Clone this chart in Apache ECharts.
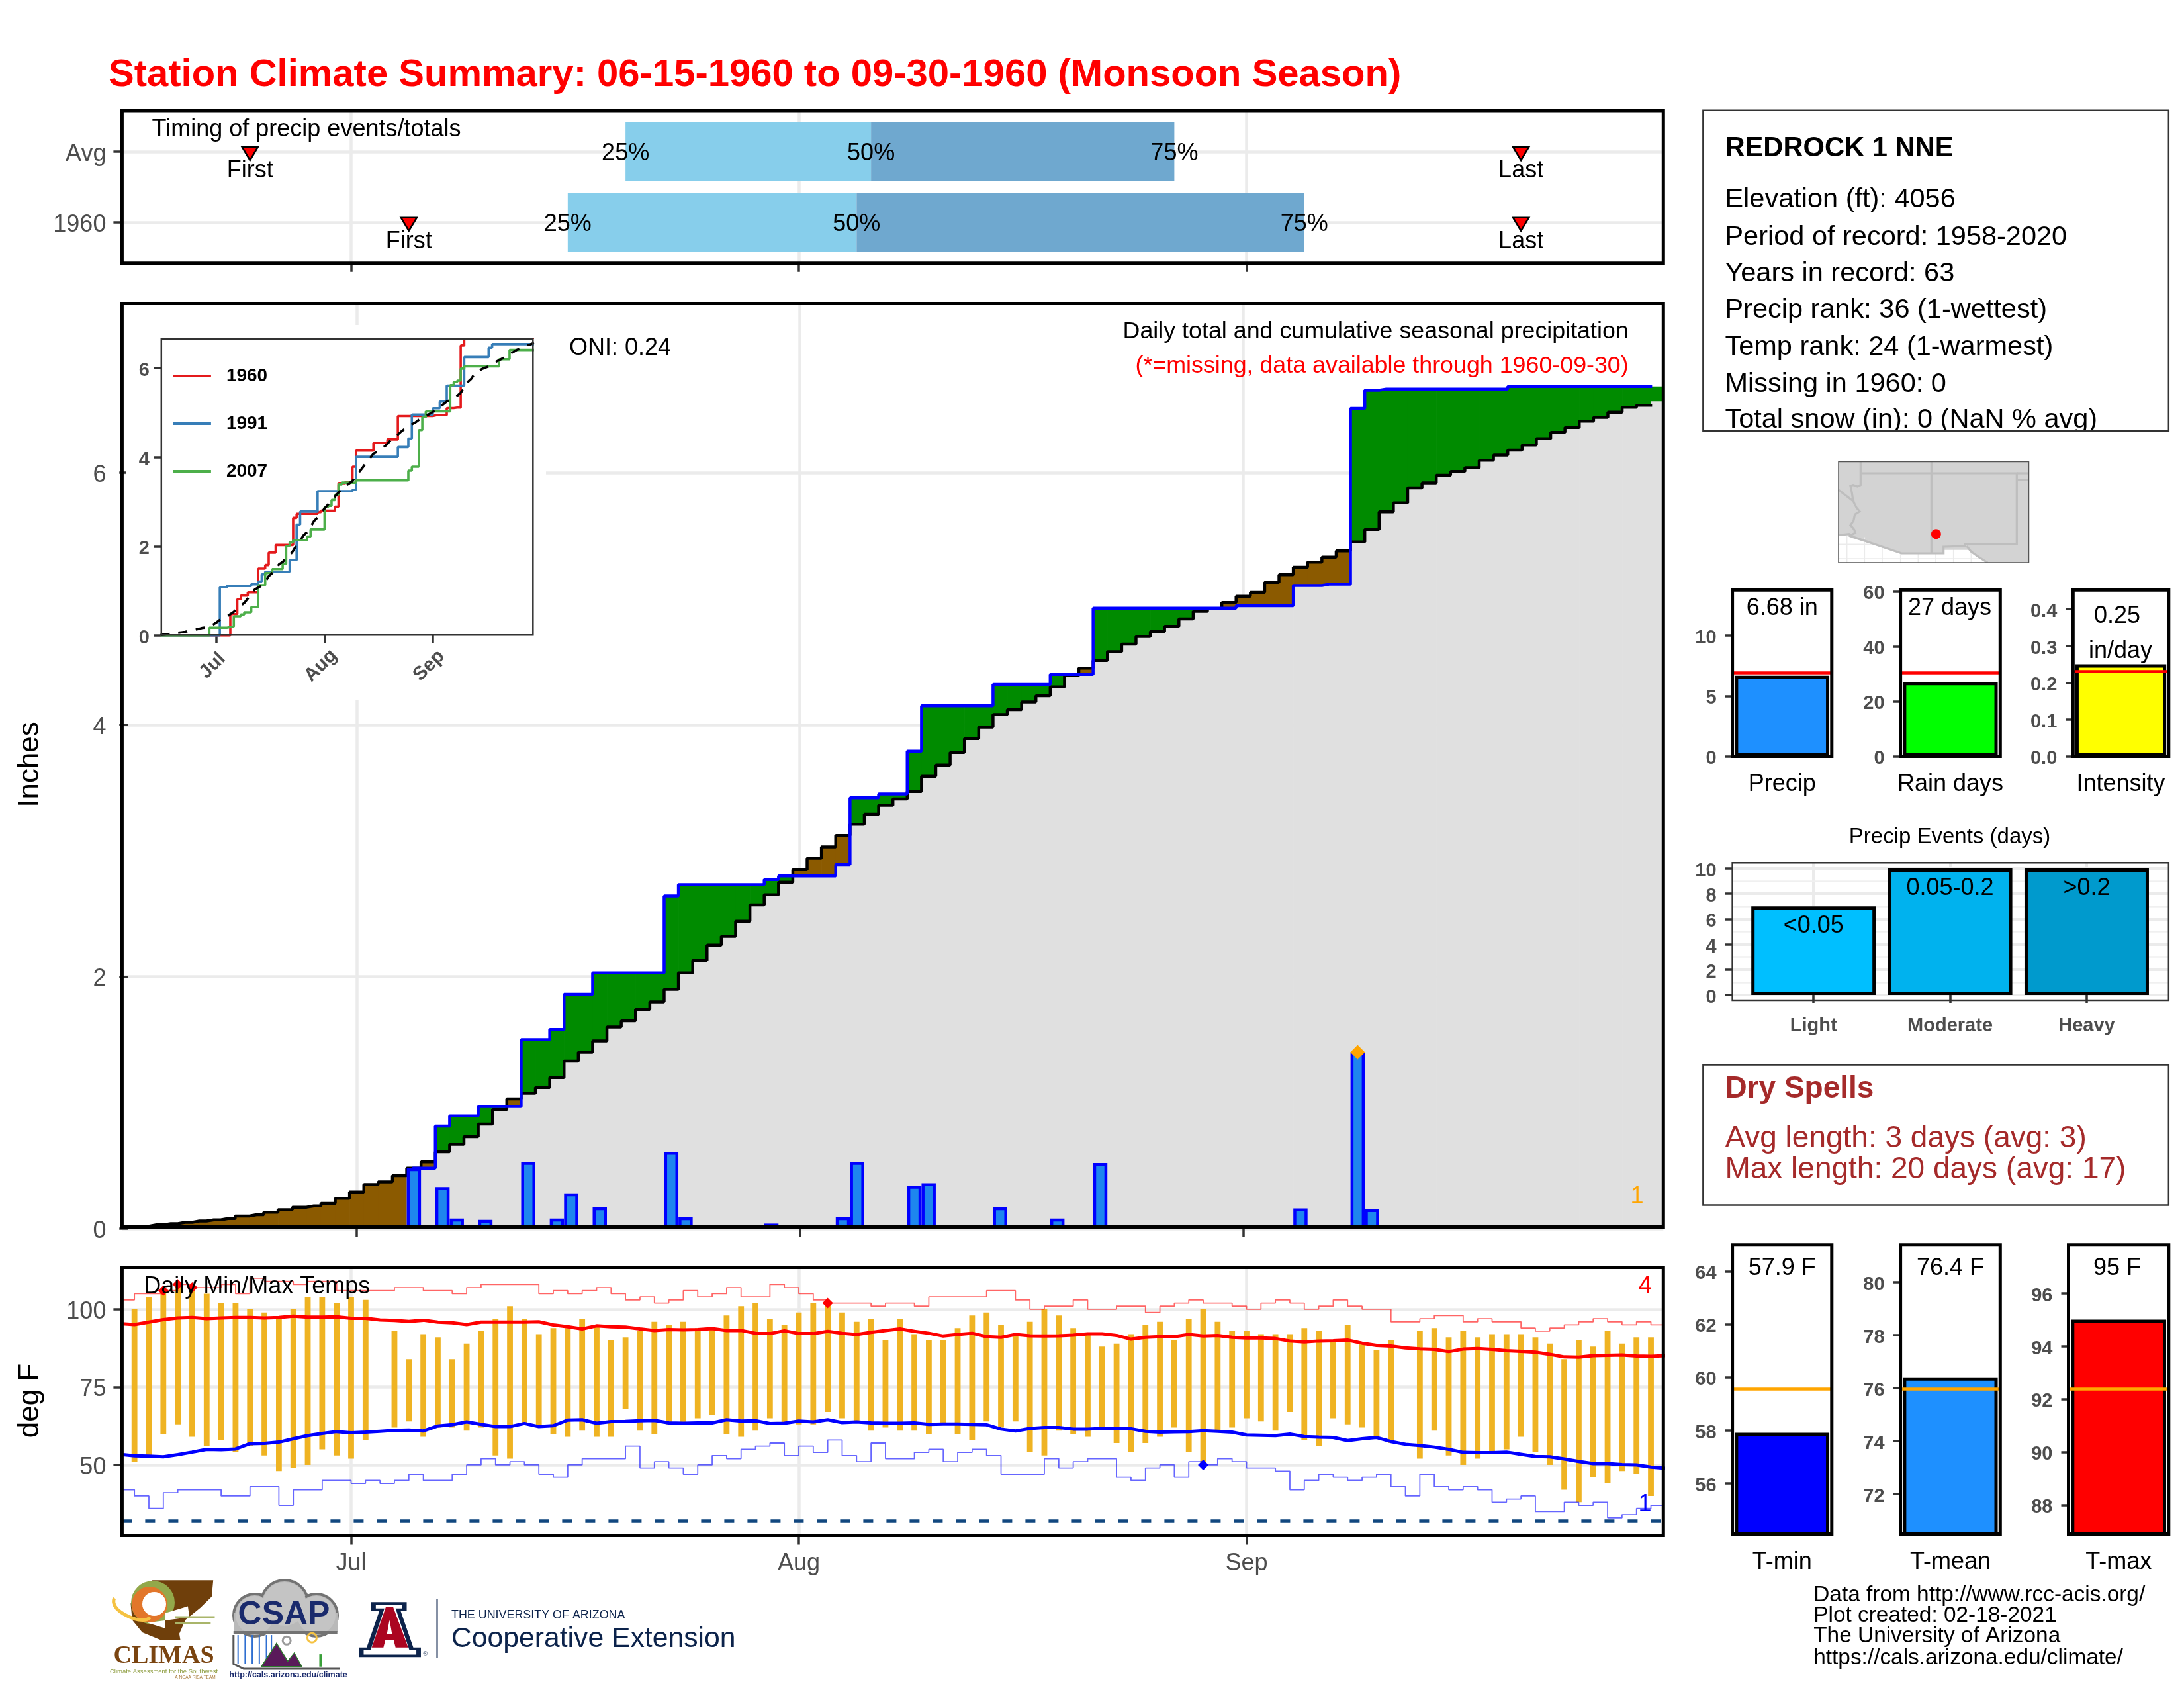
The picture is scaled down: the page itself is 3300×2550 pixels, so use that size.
<!DOCTYPE html>
<html>
<head>
<meta charset="utf-8">
<title>Station Climate Summary</title>
<script src="https://cdn.jsdelivr.net/npm/echarts@6/dist/echarts.min.js"></script>
<style>html,body{margin:0;padding:0;background:#fff}</style>
</head>
<body>
<div id="main" style="width:3300px;height:2550px;"></div>
<script type="text/javascript">
// day index: 0 = Jun 15, 16 = Jul 1, 47 = Aug 1, 78 = Sep 1, 107 = Sep 30
var monthDays = [16, 47, 78];
var monthNames = ['Jul', 'Aug', 'Sep'];

// timing panel
var timingRows = ['1960', 'Avg'];
var timingQuart = [[31, 51, 82], [35, 52, 73]];
var quartLabels = ['25%', '50%', '75%'];
var firstDays = [20, 9];
var lastDays = [97, 97];

// daily precip (inches), only days that show a bar
var precipDays = [20,22,23,25,28,30,31,33,38,39,45,46,50,51,53,55,56,61,65,68,78,82,86,87,97];
var precipVals = [.48,.33,.08,.07,.53,.08,.28,.17,.61,.09,.04,.03,.09,.53,.03,.34,.36,.17,.08,.52,.02,.16,1.40,.155,.02];

// cumulative precip for 1960, one per day
var obsCum = [
  0,0,0,0,0,0,0,0,0,0,0,0,0,0,0,0,0,0,0,0,
  .48,.48,.815,.895,.895,.97,.97,.97,1.50,1.50,1.58,1.86,1.86,
  2.03,2.03,2.03,2.03,2.03,2.64,2.73,2.73,2.73,2.73,2.73,2.73,2.77,
  2.80,2.80,2.80,2.80,2.89,3.42,3.42,3.45,3.45,3.79,
  4.15,4.15,4.15,4.15,4.15,4.32,4.32,4.32,4.32,4.40,4.40,4.40,
  4.925,4.925,4.925,4.925,4.925,4.925,4.925,4.925,4.925,4.925,
  4.945,4.945,4.945,4.945,5.105,5.105,5.115,5.115,6.51,6.655,
  6.665,6.665,6.665,6.665,6.665,6.665,6.665,6.665,6.665,
  6.685,6.685,6.685,6.685,6.685,6.685,6.685,6.685,6.685,6.685,6.685
];
// long term average cumulative precip, one per day
var avgCum = [
  .01,.02,.03,.04,.05,.06,.07,.08,.10,.11,.13,.15,.17,.18,.20,.24,.29,.35,.37,.42,
  .48,.53,.61,.67,.73,.83,.945,1.03,1.075,1.12,1.20,1.33,1.40,1.49,1.60,1.65,1.74,1.80,1.90,
  2.03,2.13,2.25,2.32,2.44,2.57,2.65,2.75,2.85,2.94,3.03,3.12,3.21,3.29,3.36,3.41,3.47,
  3.59,3.68,3.78,3.89,3.98,4.08,4.12,4.18,4.23,4.30,4.39,4.45,
  4.51,4.58,4.64,4.70,4.74,4.78,4.84,4.90,4.92,4.97,5.02,5.05,5.13,5.19,5.25,5.29,5.33,5.38,
  5.45,5.55,5.69,5.76,5.88,5.92,5.98,6.01,6.04,6.10,6.14,6.18,6.22,6.27,6.32,6.36,6.41,6.44,6.48,6.52,6.535,6.57
];
var maxPrecipDay = [86, 1.40];

// inset comparison years: step day and level
var days1991 = [0,17,19,26,28,29,30,37,39,40,45,55,56,68,71,72,78,80,82,87,94,95,107];
var vals1991 = [0,1.08,1.11,1.15,1.21,1.37,1.43,1.69,2.49,2.78,3.24,3.27,4.01,4.23,4.42,4.96,5.10,5.25,5.61,6.25,6.46,6.54,6.54];
var days2007 = [0,14,19,21,23,24,26,28,30,32,35,36,37,38,42,43,47,48,49,50,51,52,56,71,72,74,75,76,83,84,85,86,87,97,100,107];
var vals2007 = [0,.175,.2,.43,.47,.52,.64,1.13,1.4,1.49,1.61,2.01,2.09,2.14,2.22,2.38,2.88,2.91,3.04,3.16,3.39,3.43,3.48,3.7,3.79,4.61,4.9,5.03,5.62,5.69,5.72,5.99,6.04,6.2,6.41,6.41];

// daily temps (deg F), null = missing
var tmaxDaily = [null,100,104,106,108,107,105,102,102,100,99,97,100,104,104,102,104,103,null,93,84,92,91,84,89,93,97,101,97,92,94,94,97,95,90,91,93,96,95,96,94,94,98,101,102,97,95,99,102,102,99,96,97,90,97,92,90,90,94,98,99,95,92,96,100,98,94,92,88,89,92,95,96,90,97,100,96,93,93,92,92,92,94,93,90,95,89,87,90,null,93,94,91,93,91,92,92,92,91,89,84,90,88,93,89,91,91,null];
var tminDaily = [null,51,53,60,63,59,56,58,54,56,53,48,49,50,55,53,52,58,null,62,64,59,62,62,61,62,53,52,63,62,60,59,61,59,59,68,61,60,63,63,65,66,60,59,61,65,63,63,63,67,65,64,61,62,61,61,60,63,60,58,64,62,64,54,53,61,60,59,62,57,54,57,59,62,54,50,61,62,65,64,61,67,58,56,65,63,62,59,57,null,52,61,53,50,52,54,55,59,54,50,42,38,46,44,48,47,40,null];
var avgMax = [95.4,95.1,95.9,96.7,97.2,97.4,97.0,97.2,97.4,97.4,97.2,97.4,97.8,97.5,97.5,97.6,97.1,97.1,96.6,96.4,96.1,96.5,95.9,95.7,95.1,95.9,95.9,95.9,95.9,96.0,95.0,94.4,93.7,94.7,94.4,94.3,93.7,93.2,93.5,93.4,93.5,93.8,93.2,93.2,92.3,92.2,93.1,92.2,92.2,92.9,92.3,91.9,92.6,93.2,93.7,92.9,92.3,91.4,91.9,92.3,91.2,91.0,91.9,91.5,91.4,91.5,91.7,92.1,92.1,91.6,90.4,91.0,91.2,91.2,91.9,91.4,91.6,91.0,90.8,90.8,90.6,89.8,89.5,89.8,89.9,90.1,89.1,88.4,88.2,87.6,87.3,87.1,86.4,87.2,87.4,87.1,86.7,86.5,86.2,85.5,84.7,84.6,85.1,85.2,85.3,85.0,84.9,85.1];
var avgMin = [53.4,52.9,52.8,52.6,53.3,54.1,55.0,54.9,55.1,56.8,56.9,57.3,58.4,59.4,60.1,60.7,60.3,60.5,60.8,61.1,61.2,60.9,62.5,62.9,63.8,63.0,62.3,62.3,63.3,62.3,62.6,64.4,64.5,63.4,63.9,64.0,64.2,64.3,63.5,63.4,63.5,63.5,64.5,64.1,64.2,63.3,63.4,64.1,63.8,64.5,63.6,63.8,63.5,63.4,63.4,63.5,63.0,63.1,63.1,63.0,62.9,61.5,60.9,61.7,62.0,62.0,61.5,61.5,61.7,61.8,61.6,60.8,60.5,60.6,60.7,61.0,60.8,60.5,59.6,59.5,59.4,59.9,59.1,58.9,58.8,57.8,58.4,58.8,57.5,56.6,56.2,55.7,55.0,54.0,53.9,53.9,54.1,53.4,52.7,52.6,51.9,51.1,50.4,50.4,50.1,50.0,49.3,48.9];
var recordHigh = [103,105,105,106,108,107,107,108,105,110,109,109,108,109,109,106,106,106,106,107,107,106,106,105,107,108,108,108,108,105,106,105,106,107,105,103,104,102,103,106,104,105,107,104,104,108,107,105,103,102,102,102,101,102,102,101,104,104,104,104,106,106,103,100,101,101,103,100,100,101,101,99,101,102,103,102,102,101,100,102,103,102,100,101,103,101,100,100,96,96,97,98,98,96,97,96,96,94,93,94,95,96,97,96,95,96,95,95];
var recordLow = [42,40,36,41,42,42,42,40,40,43,43,37,42,42,45,45,44,45,44,45,47,45,45,47,50,52,50,51,50,47,46,50,52,52,52,56,49,51,49,47,50,53,52,55,56,57,53,56,54,58,53,51,57,52,52,54,55,51,54,55,53,47,47,47,52,49,51,52,52,46,45,49,50,46,51,50,52,51,49,49,48,42,45,47,46,45,46,47,43,40,47,43,42,43,42,38,39,40,35,35,38,37,38,33,34,36,37,37];
var freezeLine = 32;
var hotMarks = [[3,106],[4,108],[5,107],[49,102]];
var coldMarks = [[75,50]];

// summary bars
var precipBar = {name: 'Precip', value: 6.68, avg: 6.92, text: '6.68 in'};
var rainBar = {name: 'Rain days', value: 27, avg: 30.4, text: '27 days'};
var intensBar = {name: 'Intensity', value: 0.25, avg: 0.2275, text: '0.25'};
var tminBar = {name: 'T-min', value: 57.9, avg: 59.55, text: '57.9 F'};
var tmeanBar = {name: 'T-mean', value: 76.4, avg: 75.97, text: '76.4 F'};
var tmaxBar = {name: 'T-max', value: 95, avg: 92.37, text: '95 F'};

var eventCats = ['Light', 'Moderate', 'Heavy'];
var eventVals = [7, 10, 10];
var eventLabels = ['<0.05', '0.05-0.2', '>0.2'];
var eventMinor = [1, 3, 5, 7, 9];

var stationLines = ['Elevation (ft): 4056', 'Period of record: 1958-2020', 'Years in record: 63', 'Precip rank: 36 (1-wettest)', 'Temp rank: 24 (1-warmest)', 'Missing in 1960: 0', 'Total snow (in): 0 (NaN % avg)'];
var footLines = ['Data from http://www.rcc-acis.org/', 'Plot created: 02-18-2021', 'The University of Arizona', 'https://cals.arizona.edu/climate/'];

var FONT = '"Liberation Sans"';
var GRID_C = '#ebebeb', TICK_C = '#333333', LABEL_C = '#4d4d4d';

var myChart = echarts.init(document.getElementById('main'));

var grids = [], xAxes = [], yAxes = [], series = [], gfx = [];

function pairs(xs, ys) { return xs.map(function (x, i) { return [x, ys[i]]; }); }
function byDay(ys) { return ys.map(function (y, i) { return [i, y]; }); }

function axisBase(customVals, fmt, size, bold, tickLen, margin) {
  return {
    axisLine: {show: false},
    axisTick: {show: true, length: tickLen || 13, lineStyle: {color: TICK_C, width: 3.5}, customValues: customVals},
    axisLabel: {show: true, customValues: customVals, formatter: fmt, fontFamily: FONT, fontSize: size, fontWeight: bold ? 'bold' : 'normal', color: LABEL_C, margin: margin || 24, padding: [4, 0, 0, 0]},
    splitLine: {show: false}
  };
}
function addPanel(box, xa, ya) {
  grids.push({left: box[0], top: box[1], width: box[2] - box[0], height: box[3] - box[1], show: false, containLabel: false});
  var i = grids.length - 1;
  // y labels sit a little high when centred, hang them from the tick instead
  ya.axisLabel.verticalAlign = 'top';
  ya.axisLabel.padding = [4 - ya.axisLabel.fontSize / 2, 0, 0, 0];
  xAxes.push(Object.assign({gridIndex: i, position: 'bottom'}, xa));
  yAxes.push(Object.assign({gridIndex: i, position: 'left'}, ya));
  return i;
}
function frame(box, color, width, z) {
  gfx.push({type: 'rect', shape: {x: box[0], y: box[1], width: box[2] - box[0], height: box[3] - box[1]},
    style: {fill: 'none', stroke: color, lineWidth: width}, z: z || 50, silent: true});
}
function txt(x, y, text, size, o) {
  o = o || {};
  // line box middle sits a little above the glyph middle
  var el = {type: 'text', x: o.rotation ? x + 4 : x, y: o.rotation ? y : y + 4, z: o.z || 60, silent: true, style: {
    text: text, fill: o.color || '#000', fontFamily: o.family || FONT, fontSize: size, fontWeight: o.weight || 'normal',
    align: o.align || 'left', textAlign: o.align || 'left', verticalAlign: 'middle', textVerticalAlign: 'middle',
    stroke: o.stroke, lineWidth: o.lineWidth
  }};
  if (o.rotation) el.rotation = o.rotation;
  gfx.push(el);
}
function poly(points, fill, stroke, lw, z, smooth) {
  gfx.push({type: fill ? 'polygon' : 'polyline', shape: {points: points, smooth: smooth || 0},
    style: {fill: fill || 'none', stroke: stroke || 'none', lineWidth: lw || 0}, z: z || 40, silent: true});
}
function circle(cx, cy, r, fill, stroke, lw, z) {
  gfx.push({type: 'circle', shape: {cx: cx, cy: cy, r: r}, style: {fill: fill || 'none', stroke: stroke || 'none', lineWidth: lw || 0}, z: z || 40, silent: true});
}
function rect(x, y, w, h, fill, z) {
  gfx.push({type: 'rect', shape: {x: x, y: y, width: w, height: h}, style: {fill: fill}, z: z || 40, silent: true});
}
function monthFmt(v) { return monthNames[monthDays.indexOf(Math.round(v))] || ''; }

// title
txt(164, 110, 'Station Climate Summary: 06-15-1960 to 09-30-1960 (Monsoon Season)', 58, {color: '#ff0000', weight: 'bold'});

/* ---------- timing panel ---------- */
var topBox = [184.4, 167, 2513.3, 397.7];
var topX = Object.assign({type: 'value', min: 0.14, max: 106.86}, axisBase(monthDays, monthFmt, 36));
topX.axisLabel.show = false;
topX.splitLine = {show: true, lineStyle: {color: GRID_C, width: 4.5}};
var topY = Object.assign({type: 'value', min: 0.42, max: 2.58}, axisBase([1, 2], function (v) { return timingRows[Math.round(v) - 1]; }, 36));
topY.splitLine = {show: true, lineStyle: {color: GRID_C, width: 4.5}};
var gTop = addPanel(topBox, topX, topY);
frame(topBox, '#000', 5);

series.push({
  type: 'custom', xAxisIndex: gTop, yAxisIndex: gTop, clip: true, z: 2,
  data: timingQuart.map(function (q, i) { return [i + 1, q[0], q[1], q[2]]; }),
  renderItem: function (params, api) {
    var row = api.value(0), a = api.coord([api.value(1), row + 0.414]), b = api.coord([api.value(2), row - 0.414]), c = api.coord([api.value(3), row - 0.414]);
    return {type: 'group', children: [
      {type: 'rect', shape: {x: a[0], y: a[1], width: b[0] - a[0], height: b[1] - a[1]}, style: {fill: '#87ceeb'}},
      {type: 'rect', shape: {x: b[0], y: a[1], width: c[0] - b[0], height: b[1] - a[1]}, style: {fill: '#6fa8cf'}}
    ]};
  }
});
var quartPts = [];
timingQuart.forEach(function (q, i) { q.forEach(function (d) { quartPts.push([d, i + 1]); }); });
series.push({
  type: 'scatter', xAxisIndex: gTop, yAxisIndex: gTop, z: 4, symbolSize: 1, itemStyle: {color: 'transparent', opacity: 1}, clip: false,
  data: quartPts,
  label: {show: true, position: 'inside', offset: [0, 3], fontFamily: FONT, fontSize: 36, color: '#000', textBorderWidth: 0, opacity: 1,
    formatter: function (p) { return quartLabels[p.dataIndex % 3]; }}
});
function timingMarks(days, word) {
  series.push({
    type: 'scatter', xAxisIndex: gTop, yAxisIndex: gTop, z: 4,
    symbol: 'triangle', symbolRotate: 180, symbolSize: [24, 20], symbolOffset: [0, 3],
    itemStyle: {color: '#ff0000', borderColor: '#000', borderWidth: 2.5, opacity: 1},
    data: days.map(function (d, i) { return [d, i + 1]; }),
    label: {show: true, position: 'bottom', distance: -3, fontFamily: FONT, fontSize: 36, color: '#000', opacity: 1, formatter: word}
  });
}
timingMarks(firstDays, 'First');
timingMarks(lastDays, 'Last');
txt(229.6, 192, 'Timing of precip events/totals', 36);

/* ---------- main precip panel ---------- */
// plot area runs down to y = 0, the frame sits a touch higher
var mainBox = [184.4, 458.6, 2513.3, 1856];
var mainX = Object.assign({type: 'value', min: -0.41, max: 107.38}, axisBase(monthDays, monthFmt, 36));
mainX.axisLabel.show = false;
mainX.splitLine = {show: true, lineStyle: {color: GRID_C, width: 4.5}};
var mainY = Object.assign({type: 'value', min: 0, max: 7.343}, axisBase([0, 2, 4, 6], function (v) { return String(Math.round(v)); }, 36));
mainY.splitLine = {show: true, lineStyle: {color: GRID_C, width: 4.5}};
var gMain = addPanel(mainBox, mainX, mainY);
frame([184.4, 458.6, 2513.3, 1853.6], '#000', 5);

series.push({
  type: 'custom', xAxisIndex: gMain, yAxisIndex: gMain, clip: true, z: 2,
  data: obsCum.map(function (o, i) { return [i, o, avgCum[i]]; }),
  renderItem: function (params, api) {
    var d = api.value(0), o = api.value(1), m = api.value(2);
    var lo = Math.min(o, m), hi = Math.max(o, m);
    var a = api.coord([d - 0.5, lo]), b = api.coord([d + 0.5, 0]), c = api.coord([d - 0.5, hi]);
    return {type: 'group', children: [
      {type: 'rect', shape: {x: a[0], y: a[1], width: b[0] - a[0] + 0.7, height: b[1] - a[1]}, style: {fill: '#e0e0e0'}},
      {type: 'rect', shape: {x: c[0], y: c[1], width: b[0] - c[0] + 0.7, height: a[1] - c[1] + 0.5}, style: {fill: o >= m ? '#008b00' : '#8b5a00'}}
    ]};
  }
});
var lineEnd = 106.49;
series.push({type: 'line', xAxisIndex: gMain, yAxisIndex: gMain, z: 3, step: 'middle', symbol: 'none', silent: true,
  lineStyle: {color: '#000', width: 4.5, cap: 'square'},
  data: byDay(avgCum).slice(0, 107).concat([[lineEnd, avgCum[106]]])});
// starts at the first rain, before that it would only run along the axis
series.push({type: 'line', xAxisIndex: gMain, yAxisIndex: gMain, z: 4, step: 'middle', symbol: 'none', silent: true,
  lineStyle: {color: '#0000ff', width: 4.5, cap: 'square'},
  data: byDay(obsCum).slice(20, 107).concat([[lineEnd, obsCum[106]]])});
series.push({type: 'bar', xAxisIndex: gMain, yAxisIndex: gMain, z: 5, barWidth: 21.5, silent: true,
  itemStyle: {color: '#1e86ee', borderColor: '#0000ff', borderWidth: 4.5},
  data: pairs(precipDays, precipVals)});
series.push({type: 'scatter', xAxisIndex: gMain, yAxisIndex: gMain, z: 6, symbol: 'diamond', symbolSize: 22,
  itemStyle: {color: '#ffa500', opacity: 1}, data: [maxPrecipDay]});

txt(860, 521.7, 'ONI: 0.24', 36);
txt(2460.7, 497, 'Daily total and cumulative seasonal precipitation', 35.8, {align: 'right'});
txt(2460.7, 549.3, '(*=missing, data available through 1960-09-30)', 35.8, {align: 'right', color: '#ff0000'});
txt(2473.5, 1804, '1', 36, {color: '#ffa500', align: 'center'});
txt(42, 1155, 'Inches', 44, {align: 'center', rotation: Math.PI / 2});

/* ---------- inset ---------- */
var insetBox = [243.8, 511.8, 805.3, 960];
// white patch behind the inset, hides the main gridlines
rect(190, 491, 635, 566, '#fff', 1);
var insetX = Object.assign({type: 'value', min: 0.25, max: 106.7, z: 5}, axisBase(monthDays, monthFmt, 29, true, 11, 40));
insetX.axisLabel.rotate = 45;
insetX.axisLabel.align = 'center';
insetX.axisLabel.verticalAlign = 'middle';
insetX.axisLabel.padding = [0, 16, 0, 0];
var insetY = Object.assign({type: 'value', min: 0, max: 6.66, z: 5}, axisBase([0, 2, 4, 6], function (v) { return String(Math.round(v)); }, 29, true, 11, 18));
var gInset = addPanel(insetBox, insetX, insetY);
frame([243.8, 511.8, 805.3, 959.3], '#333', 2.5);
function insetLine(name, data, color) {
  series.push({name: name, type: 'line', xAxisIndex: gInset, yAxisIndex: gInset, z: 7, step: 'end', symbol: 'none', silent: true,
    lineStyle: {color: color, width: 3.6}, itemStyle: {color: color}, data: data});
}
insetLine('1960', byDay(obsCum), '#e41a1c');
insetLine('1991', pairs(days1991, vals1991), '#377eb8');
insetLine('2007', pairs(days2007, vals2007), '#4daf4a');
series.push({type: 'line', xAxisIndex: gInset, yAxisIndex: gInset, z: 8, symbol: 'none', silent: true,
  lineStyle: {color: '#000', width: 3.6, type: [14, 13]}, data: byDay(avgCum)});

/* ---------- daily temps panel ---------- */
var tempBox = [184.4, 1914.5, 2513.3, 2319.6];
var tempX = Object.assign({type: 'value', min: 0.14, max: 106.86}, axisBase(monthDays, monthFmt, 36));
tempX.axisTick.length = 14;
tempX.axisLabel.margin = 20;
tempX.splitLine = {show: true, lineStyle: {color: GRID_C, width: 4.5}};
var tempY = Object.assign({type: 'value', min: 27.3, max: 113.5}, axisBase([50, 75, 100], function (v) { return String(Math.round(v)); }, 36));
tempY.splitLine = {show: true, lineStyle: {color: GRID_C, width: 4.5}};
var gTemp = addPanel(tempBox, tempX, tempY);
frame(tempBox, '#000', 5);

var tempRows = [];
tmaxDaily.forEach(function (t, i) { if (t !== null) tempRows.push([i, tminDaily[i], t]); });
series.push({
  type: 'custom', xAxisIndex: gTemp, yAxisIndex: gTemp, clip: true, z: 2, data: tempRows,
  renderItem: function (params, api) {
    var a = api.coord([api.value(0), api.value(2)]), b = api.coord([api.value(0), api.value(1)]);
    return {type: 'rect', shape: {x: a[0] - 4.4, y: a[1], width: 8.8, height: b[1] - a[1]}, style: {fill: '#efb322'}};
  }
});
function tempStep(data, color) {
  series.push({type: 'line', xAxisIndex: gTemp, yAxisIndex: gTemp, z: 3, step: 'end', symbol: 'none', silent: true,
    lineStyle: {color: color, width: 1.8, opacity: 0.6}, data: byDay(data)});
}
tempStep(recordHigh, '#ff0000');
tempStep(recordLow, '#0000ff');
series.push({type: 'line', xAxisIndex: gTemp, yAxisIndex: gTemp, z: 3, symbol: 'none', silent: true,
  lineStyle: {color: '#11477f', width: 4.5, type: [15, 20]}, data: [[0.14, freezeLine], [106.86, freezeLine]]});
function tempMean(data, color) {
  series.push({type: 'line', xAxisIndex: gTemp, yAxisIndex: gTemp, z: 4, symbol: 'none', silent: true,
    lineStyle: {color: color, width: 5}, data: byDay(data)});
}
tempMean(avgMax, '#ff0000');
tempMean(avgMin, '#0000ff');
series.push({type: 'scatter', xAxisIndex: gTemp, yAxisIndex: gTemp, z: 5, symbol: 'diamond', symbolSize: 16, itemStyle: {color: '#ff0000', opacity: 1}, data: hotMarks});
series.push({type: 'scatter', xAxisIndex: gTemp, yAxisIndex: gTemp, z: 5, symbol: 'diamond', symbolSize: 16, itemStyle: {color: '#0000ff', opacity: 1}, data: coldMarks});
txt(217.3, 1940, 'Daily Min/Max Temps', 36);
txt(2486, 1939.5, '4', 36, {color: '#ff0000', align: 'center'});
txt(2485.5, 2269, '1', 36, {color: '#0000ff', align: 'center'});
txt(42, 2116, 'deg F', 44, {align: 'center', rotation: Math.PI / 2});

/* ---------- summary bars ---------- */
function summaryBar(box, yMin, yMax, ticks, item, fill, lineColor, labelY, labelX, fmt) {
  var w = box[2] - box[0];
  var xa = {type: 'category', data: [item.name], axisLine: {show: false}, axisTick: {show: false}, splitLine: {show: false},
    axisLabel: {fontFamily: FONT, fontSize: 36, color: '#000', margin: 25}};
  var ya = Object.assign({type: 'value', min: yMin, max: yMax}, axisBase(ticks, fmt, 29, true, 11));
  var g = addPanel(box, xa, ya);
  series.push({type: 'bar', xAxisIndex: g, yAxisIndex: g, z: 3, barWidth: w * 0.95, silent: true,
    itemStyle: {color: fill, borderColor: '#000', borderWidth: 5},
    data: [item.value],
    markLine: {silent: true, symbol: 'none', label: {show: false}, z: 6,
      lineStyle: {color: lineColor, width: 4.5, type: 'solid'}, data: [{yAxis: item.avg}]}
  });
  frame(box, '#000', 5);
  txt(labelX, labelY, item.text, 36, {align: 'center'});
}
function intFmt(v) { return String(Math.round(v)); }
summaryBar([2617.6, 891.3, 2767.8, 1142.4], 0, 13.78, [0, 5, 10], precipBar, '#1e90ff', '#ff0000', 914.7, 2692.7, intFmt);
summaryBar([2871.6, 891.3, 3022.3, 1142.4], 0, 60.5, [0, 20, 40, 60], rainBar, '#00ff00', '#ff0000', 914.7, 2946, intFmt);
summaryBar([3132.3, 891.3, 3276.8, 1142.4], 0, 0.452, [0, 0.1, 0.2, 0.3, 0.4], intensBar, '#ffff00', '#ff0000', 926.8, 3199, function (v) { return v.toFixed(1); });
txt(3204, 980.4, 'in/day', 36, {align: 'center'});
summaryBar([2617.6, 1880.8, 2767.8, 2317.4], 54.08, 64.99, [56, 58, 60, 62, 64], tminBar, '#0000ff', '#ffa500', 1912.5, 2692.7, intFmt);
summaryBar([2871.6, 1880.8, 3022.3, 2317.4], 70.48, 81.4, [72, 74, 76, 78, 80], tmeanBar, '#1e90ff', '#ffa500', 1912.5, 2947, intFmt);
summaryBar([3125.5, 1880.8, 3276.8, 2317.4], 86.9, 97.82, [88, 90, 92, 94, 96], tmaxBar, '#ff0000', '#ffa500', 1912.5, 3199, intFmt);

/* ---------- precip events ---------- */
var evBox = [2617.6, 1303.2, 3276.8, 1511];
var evX = Object.assign({type: 'value', min: 0.406, max: 3.6}, axisBase([1, 2, 3], function (v) { return eventCats[Math.round(v) - 1]; }, 29, true, 12, 20));
evX.splitLine = {show: true, lineStyle: {color: GRID_C, width: 4}};
var evY = Object.assign({type: 'value', min: -0.42, max: 10.46}, axisBase([0, 2, 4, 6, 8, 10], intFmt, 29, true, 11));
evY.splitLine = {show: true, lineStyle: {color: GRID_C, width: 4}};
var gEv = addPanel(evBox, evX, evY);
frame(evBox, '#333', 2.5);
var evColors = ['#00bfff', '#00b2ee', '#009acd'];
series.push({type: 'line', xAxisIndex: gEv, yAxisIndex: gEv, z: 1, data: [], silent: true,
  markLine: {silent: true, symbol: 'none', label: {show: false}, z: 1, lineStyle: {color: '#f0f0f0', width: 2.5, type: 'solid'},
    data: eventMinor.map(function (v) { return {yAxis: v}; })}});
series.push({type: 'bar', xAxisIndex: gEv, yAxisIndex: gEv, z: 3, barWidth: 188, silent: true,
  data: eventVals.map(function (v, i) {
    return {value: [i + 1, v], itemStyle: {color: evColors[i], borderColor: '#000', borderWidth: 5}};
  }),
  label: {show: true, position: 'insideTop', distance: 12, fontFamily: FONT, fontSize: 36, color: '#000', textBorderWidth: 0,
    formatter: function (p) { return eventLabels[p.dataIndex]; }}
});
txt(2946, 1261, 'Precip Events (days)', 33, {align: 'center'});

/* ---------- text boxes ---------- */
txt(2606.4, 221, 'REDROCK 1 NNE', 41.7, {weight: 'bold'});
var stationY = [298, 354.2, 409.8, 464.7, 521, 576.6, 630.8];
stationLines.forEach(function (s, i) { txt(2606.4, stationY[i], s, 41.5); });
rect(2572, 652, 706, 14, '#fff', 61);
frame([2573.4, 166.7, 3276.8, 650.9], '#333', 2.5, 62);

frame([2573.4, 1608.4, 3276.8, 1820.6], '#333', 2.5);
txt(2606.4, 1641.5, 'Dry Spells', 46, {weight: 'bold', color: '#a52a2a'});
txt(2606.4, 1716, 'Avg length: 3 days (avg: 3)', 46, {color: '#a52a2a'});
txt(2606.4, 1763.8, 'Max length: 20 days (avg: 17)', 46, {color: '#a52a2a'});

var footY = [2405.8, 2437, 2468, 2501];
footLines.forEach(function (s, i) { txt(2740.2, footY[i], s, 33.4); });

/* ---------- locator map ---------- */
function mp(list) { return list.map(function (p) { return [2770 + p[0] / 3, 690 + p[1] / 3]; }); }
rect(2778, 697.5, 287.5, 152.5, '#d3d3d3', 30);
poly(mp([[24,358],[70,355],[75,365],[310,438],[500,438],[500,408],[600,405],[620,425],[640,445],[700,480],[24,480]]), '#fff', null, 0, 31);
[62, 142, 222, 305, 385, 465, 545, 625].forEach(function (z) {
  poly(mp([[z, 358], [z, 480]]), null, GRID_C, 1.6, 32);
});
[397, 462].forEach(function (z) { poly(mp([[24, z], [680, z]]), null, GRID_C, 1.6, 32); });
// cover gridline parts that run over the land
poly(mp([[70,340],[310,422],[886,422],[886,340]]), '#d3d3d3', null, 0, 33);
poly(mp([[310,438],[500,438],[500,408],[600,405],[620,425],[640,445],[700,480],[886,480],[886,400],[310,400],[75,365],[70,355]]), '#d3d3d3', null, 0, 33);
var BORDER = '#bebebe';
poly(mp([[124,22],[124,128],[110,135],[90,128],[78,132],[85,165],[90,200],[105,230],[120,248],[98,262],[92,290],[78,310],[95,330],[100,345],[75,358],[310,438],[500,438],[500,408],[598,405],[598,395],[832,395],[832,75],[124,75]]), null, BORDER, 3.2, 34);
poly(mp([[832,75],[886,75]]), null, BORDER, 3.2, 34);
poly(mp([[445,22],[445,438]]), null, BORDER, 3.2, 34);
poly(mp([[24,150],[95,205]]), null, BORDER, 3.2, 34);
poly(mp([[24,355],[75,350]]), null, BORDER, 3.2, 34);
poly(mp([[605,405],[625,430],[660,455],[700,480]]), null, BORDER, 3.2, 34);
poly(mp([[835,105],[886,105]]), null, BORDER, 3.2, 34);
circle(2925.4, 806.8, 7.5, '#ff0000', null, 0, 35);
frame([2778, 697.5, 3065.5, 850], '#555', 1.5, 36);

/* ---------- logos ---------- */
function lz(list) { return list.map(function (p) { return [150 + p[0] / 1.3067, 1900 + p[1] / 2.412]; }); }
// climas
poly(lz([[105,1175],[225,1175],[222,1235],[200,1275],[170,1320],[158,1370],[160,1392],[120,1392],[85,1365],[65,1320],[62,1260],[80,1205]]), '#6f3f0b', null, 0, 41);
circle(231, 2421, 33, '#93a84a', null, 0, 42);
circle(226, 2424, 27, '#e2762a', null, 0, 43);
circle(233, 2423, 18, '#fff', null, 0, 44);
poly(lz([[130,1295],[175,1270],[178,1310],[95,1330],[130,1350]]), '#fff', null, 0, 44);
poly(lz([[30,1240],[50,1300],[100,1310]]), null, '#f5c242', 5, 44, 1);
poly(lz([[150,1310],[228,1310]]), null, '#a9b56a', 3, 44);
poly(lz([[150,1330],[220,1330]]), null, '#a9b56a', 3, 44);
txt(247.5, 2498, 'CLIMAS', 38, {align: 'center', family: '"Liberation Serif"', weight: 'bold', color: '#7a4410', z: 44});
txt(247.5, 2521, 'Climate Assessment for the Southwest', 9.5, {align: 'center', color: '#8a9a3a', z: 44});
txt(295, 2530, 'A NOAA RISA TEAM', 6.5, {align: 'center', color: '#a87a3a', z: 44});
// csap
[[385, 2440, 32], [430, 2423, 36], [478, 2440, 32]].forEach(function (c) { circle(c[0], c[1], c[2], '#b9b9b9', '#737373', 4, 41); });
rect(353, 2436, 158, 30, '#b9b9b9', 42);
[[385, 2440, 29], [430, 2423, 33], [478, 2440, 29]].forEach(function (c) { circle(c[0], c[1], c[2], '#c4c4c4', null, 0, 42); });
poly(lz([[265,1365],[470,1365]]), null, '#737373', 4, 43);
txt(429, 2436, 'CSAP', 50, {align: 'center', weight: 'bold', color: '#1a2a6c', z: 44});
[274, 288, 302, 316, 330, 340].forEach(function (z) { poly(lz([[z, 1375], [z, 1480]]), null, '#2f6fd0', 2, 43); });
poly(lz([[320,1490],[350,1405],[372,1470],[385,1440],[400,1490]]), '#5a1a5a', '#2f7a2f', 1.5, 44);
poly(lz([[265,1375],[265,1480],[285,1498],[475,1498]]), null, '#555', 3, 43);
circle(370 / 1.3067 + 150, 1900 + 1395 / 2.412, 6, null, '#999', 3, 44);
circle(420 / 1.3067 + 150, 1900 + 1385 / 2.412, 7, null, '#f5c242', 3, 44);
poly(lz([[437,1445],[437,1490]]), null, '#3aa03a', 4, 44);
txt(435.5, 2527, 'http://cals.arizona.edu/climate', 12.5, {align: 'center', weight: 'bold', color: '#1a2a6c', z: 44});
// university of arizona block A
poly(lz([[537,1255],[607,1255],[607,1287],[595,1287],[620,1420],[635,1420],[635,1455],[513,1455],[513,1420],[528,1420],[553,1287],[537,1287]]), '#0c234b', null, 0, 42);
poly(lz([[546,1265],[598,1265],[598,1278],[585,1278],[612,1428],[626,1428],[626,1446],[522,1446],[522,1428],[536,1428],[563,1278],[546,1278]]), '#fff', null, 0, 43);
poly(lz([[566,1272],[580,1272],[610,1420],[585,1420],[581,1392],[565,1392],[561,1420],[538,1420]]), '#ab0520', null, 0, 44);
poly(lz([[573,1320],[578,1370],[568,1370]]), '#fff', null, 0, 45);
txt(644 / 1.3067 + 150, 1900 + 1444 / 2.412 - 4, '®', 9, {align: 'center', color: '#0c234b', z: 44});
poly([[660.5, 2416], [660.5, 2505]], null, '#0c234b', 2, 44);
txt(682, 2436, 'THE UNIVERSITY OF ARIZONA', 17.9, {color: '#0c234b', z: 44});
txt(682, 2472, 'Cooperative Extension', 42.7, {color: '#0c234b', z: 44});

var option = {
  animation: false,
  backgroundColor: '#fff',
  grid: grids,
  xAxis: xAxes,
  yAxis: yAxes,
  series: series,
  legend: {
    left: 256.9, top: 549, orient: 'vertical', icon: 'rect', itemWidth: 57, itemHeight: 4, itemGap: 44, z: 9,
    data: ['1960', '1991', '2007'], selectedMode: false,
    textStyle: {fontFamily: FONT, fontSize: 28, fontWeight: 'bold', color: '#000', padding: [0, 0, 0, 18]}
  },
  graphic: {elements: gfx}
};
myChart.setOption(option);
</script>
</body>
</html>
